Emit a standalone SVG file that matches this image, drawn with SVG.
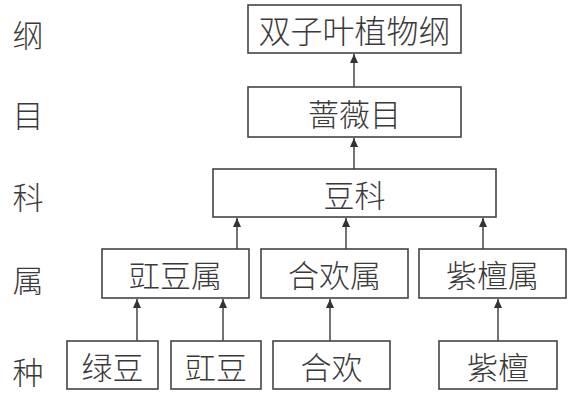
<svg xmlns="http://www.w3.org/2000/svg" width="571" height="395" viewBox="0 0 571 395">
  <defs>
    <marker id="arr" markerWidth="9" markerHeight="8" refX="9" refY="4" orient="auto" markerUnits="userSpaceOnUse">
      <path d="M0,0 L9,4 L0,8 Z" fill="#333"/>
    </marker>
    <style>
      .box { fill: #fff; stroke: #444; stroke-width: 1.6; }
      .t { font-family: "Noto Sans CJK SC", "Noto Sans", sans-serif; font-size: 31px; font-weight: 300; fill: #3a3a3a; text-anchor: middle; dominant-baseline: central; }
      .conn { stroke: #444; stroke-width: 1.5; fill: none; marker-end: url(#arr); }
    </style>
  </defs>
  <rect width="571" height="395" fill="#fff"/>

  <g id="labels">
    <text class="t" x="28" y="33">纲</text>
    <text class="t" x="28" y="113">目</text>
    <text class="t" x="28" y="195">科</text>
    <text class="t" x="28" y="278">属</text>
    <text class="t" x="28" y="370">种</text>
  </g>

  <g id="connectors">
    <line class="conn" x1="354" y1="87" x2="354" y2="54"/>
    <line class="conn" x1="354" y1="169" x2="354" y2="138"/>
    <line class="conn" x1="237" y1="249" x2="237" y2="218"/>
    <line class="conn" x1="346" y1="249" x2="346" y2="218"/>
    <line class="conn" x1="483" y1="249" x2="483" y2="218"/>
    <line class="conn" x1="137" y1="341" x2="137" y2="299"/>
    <line class="conn" x1="223" y1="341" x2="223" y2="299"/>
    <line class="conn" x1="330" y1="341" x2="330" y2="299"/>
    <line class="conn" x1="498" y1="341" x2="498" y2="299"/>
  </g>

  <g id="n-dicot">
    <rect class="box" x="248" y="5" width="213" height="48"/>
    <text class="t" x="354.5" y="29" style="font-size:32px">双子叶植物纲</text>
  </g>
  <g id="n-rosales">
    <rect class="box" x="248" y="87" width="213" height="50"/>
    <text class="t" x="354.5" y="112">蔷薇目</text>
  </g>
  <g id="n-fabaceae">
    <rect class="box" x="213" y="169" width="283" height="48"/>
    <text class="t" x="354.5" y="193">豆科</text>
  </g>
  <g id="n-vigna">
    <rect class="box" x="102" y="249" width="147" height="49"/>
    <text class="t" x="175.5" y="273.5">豇豆属</text>
  </g>
  <g id="n-albizia">
    <rect class="box" x="261" y="249" width="147" height="49"/>
    <text class="t" x="334.5" y="273.5">合欢属</text>
  </g>
  <g id="n-pterocarpus">
    <rect class="box" x="419" y="249" width="147" height="49"/>
    <text class="t" x="492.5" y="273.5">紫檀属</text>
  </g>
  <g id="n-mungbean">
    <rect class="box" x="67" y="341" width="91" height="48"/>
    <text class="t" x="112.5" y="365">绿豆</text>
  </g>
  <g id="n-cowpea">
    <rect class="box" x="171" y="341" width="90" height="48"/>
    <text class="t" x="216" y="365">豇豆</text>
  </g>
  <g id="n-silktree">
    <rect class="box" x="273" y="341" width="117" height="48"/>
    <text class="t" x="331.5" y="365">合欢</text>
  </g>
  <g id="n-redsandal">
    <rect class="box" x="439" y="341" width="118" height="48"/>
    <text class="t" x="498" y="365">紫檀</text>
  </g>
</svg>
